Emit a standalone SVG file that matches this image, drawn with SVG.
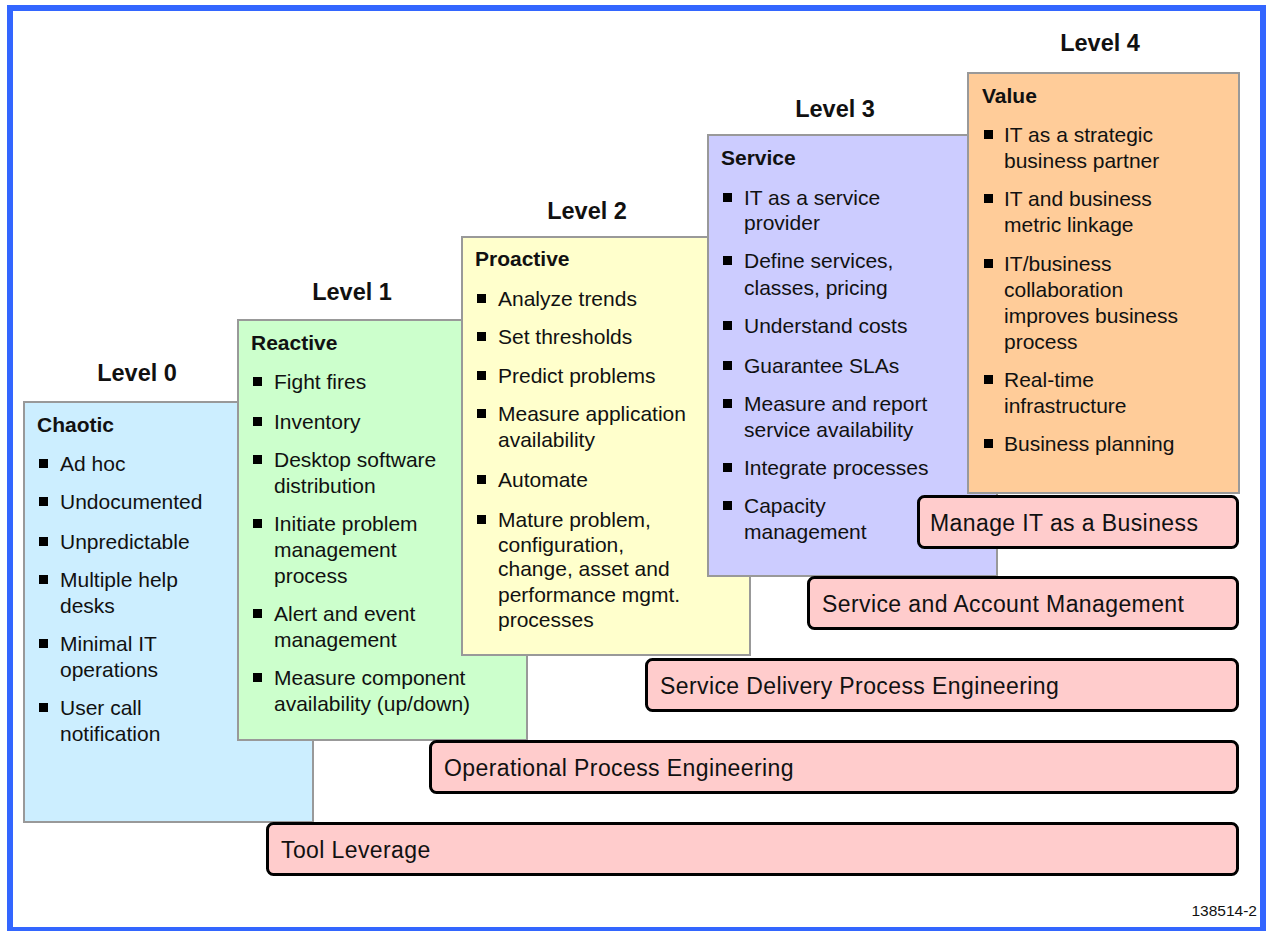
<svg xmlns="http://www.w3.org/2000/svg" width="1269" height="931" viewBox="0 0 1269 931">
<style>
text{font-family:"Liberation Sans",Arial,sans-serif;fill:#111}
.lvl{font-size:23.5px;font-weight:bold;text-anchor:middle}
.ttl{font-size:21px;font-weight:bold}
.it{font-size:21px}
.bar{font-size:23px;letter-spacing:0.4px}
.box{stroke:#999;stroke-width:2}
.pb{fill:#FFCCCC;stroke:#000;stroke-width:3}
.bl{fill:#000}
</style>
<rect x="0" y="0" width="1269" height="931" fill="#fff"/>
<rect x="10" y="8" width="1253" height="922" fill="none" stroke="#3366FF" stroke-width="6"/>

<g id="level0">
<rect class="box" x="24" y="402" width="289" height="420" fill="#CCEEFF"/>
<text class="lvl" x="137" y="381">Level 0</text>
<text class="ttl" x="37" y="432">Chaotic</text>
<rect class="bl" x="39" y="459" width="9" height="9"/><text class="it" x="60" y="471">Ad hoc</text>
<rect class="bl" x="39" y="497" width="9" height="9"/><text class="it" x="60" y="509">Undocumented</text>
<rect class="bl" x="39" y="537" width="9" height="9"/><text class="it" x="60" y="549">Unpredictable</text>
<rect class="bl" x="39" y="575" width="9" height="9"/><text class="it" x="60" y="587">Multiple help</text><text class="it" x="60" y="613">desks</text>
<rect class="bl" x="39" y="639" width="9" height="9"/><text class="it" x="60" y="651">Minimal IT</text><text class="it" x="60" y="677">operations</text>
<rect class="bl" x="39" y="703" width="9" height="9"/><text class="it" x="60" y="715">User call</text><text class="it" x="60" y="741">notification</text>
</g>

<g id="level1">
<rect class="box" x="238" y="320" width="289" height="420" fill="#CCFFCC"/>
<text class="lvl" x="352" y="300">Level 1</text>
<text class="ttl" x="251" y="350">Reactive</text>
<rect class="bl" x="253" y="377" width="9" height="9"/><text class="it" x="274" y="389">Fight fires</text>
<rect class="bl" x="253" y="417" width="9" height="9"/><text class="it" x="274" y="429">Inventory</text>
<rect class="bl" x="253" y="455" width="9" height="9"/><text class="it" x="274" y="467">Desktop software</text><text class="it" x="274" y="493">distribution</text>
<rect class="bl" x="253" y="519" width="9" height="9"/><text class="it" x="274" y="531">Initiate problem</text><text class="it" x="274" y="557">management</text><text class="it" x="274" y="583">process</text>
<rect class="bl" x="253" y="609" width="9" height="9"/><text class="it" x="274" y="621">Alert and event</text><text class="it" x="274" y="647">management</text>
<rect class="bl" x="253" y="673" width="9" height="9"/><text class="it" x="274" y="685">Measure component</text><text class="it" x="274" y="711">availability (up/down)</text>
</g>

<g id="level2">
<rect class="box" x="462" y="237" width="288" height="418" fill="#FFFFCC"/>
<text class="lvl" x="587" y="219">Level 2</text>
<text class="ttl" x="475" y="266">Proactive</text>
<rect class="bl" x="477" y="294" width="9" height="9"/><text class="it" x="498" y="306">Analyze trends</text>
<rect class="bl" x="477" y="332" width="9" height="9"/><text class="it" x="498" y="344">Set thresholds</text>
<rect class="bl" x="477" y="371" width="9" height="9"/><text class="it" x="498" y="383">Predict problems</text>
<rect class="bl" x="477" y="409" width="9" height="9"/><text class="it" x="498" y="421">Measure application</text><text class="it" x="498" y="447">availability</text>
<rect class="bl" x="477" y="475" width="9" height="9"/><text class="it" x="498" y="487">Automate</text>
<rect class="bl" x="477" y="515" width="9" height="9"/><text class="it" x="498" y="527">Mature problem,</text><text class="it" x="498" y="552">configuration,</text><text class="it" x="498" y="576">change, asset and</text><text class="it" x="498" y="602">performance mgmt.</text><text class="it" x="498" y="627">processes</text>
</g>

<g id="level3">
<rect class="box" x="708" y="135" width="289" height="441" fill="#CCCCFF"/>
<text class="lvl" x="835" y="117">Level 3</text>
<text class="ttl" x="721" y="165">Service</text>
<rect class="bl" x="723" y="193" width="9" height="9"/><text class="it" x="744" y="205">IT as a service</text><text class="it" x="744" y="230">provider</text>
<rect class="bl" x="723" y="256" width="9" height="9"/><text class="it" x="744" y="268">Define services,</text><text class="it" x="744" y="295">classes, pricing</text>
<rect class="bl" x="723" y="321" width="9" height="9"/><text class="it" x="744" y="333">Understand costs</text>
<rect class="bl" x="723" y="361" width="9" height="9"/><text class="it" x="744" y="373">Guarantee SLAs</text>
<rect class="bl" x="723" y="399" width="9" height="9"/><text class="it" x="744" y="411">Measure and report</text><text class="it" x="744" y="437">service availability</text>
<rect class="bl" x="723" y="463" width="9" height="9"/><text class="it" x="744" y="475">Integrate processes</text>
<rect class="bl" x="723" y="501" width="9" height="9"/><text class="it" x="744" y="513">Capacity</text><text class="it" x="744" y="539">management</text>
</g>

<g id="level4">
<rect class="box" x="968" y="73" width="271" height="420" fill="#FFCC99"/>
<text class="lvl" x="1100" y="51">Level 4</text>
<text class="ttl" x="982" y="103">Value</text>
<rect class="bl" x="984" y="130" width="9" height="9"/><text class="it" x="1004" y="142">IT as a strategic</text><text class="it" x="1004" y="168">business partner</text>
<rect class="bl" x="984" y="194" width="9" height="9"/><text class="it" x="1004" y="206">IT and business</text><text class="it" x="1004" y="232">metric linkage</text>
<rect class="bl" x="984" y="259" width="9" height="9"/><text class="it" x="1004" y="271">IT/business</text><text class="it" x="1004" y="297">collaboration</text><text class="it" x="1004" y="323">improves business</text><text class="it" x="1004" y="349">process</text>
<rect class="bl" x="984" y="375" width="9" height="9"/><text class="it" x="1004" y="387">Real-time</text><text class="it" x="1004" y="413">infrastructure</text>
<rect class="bl" x="984" y="439" width="9" height="9"/><text class="it" x="1004" y="451">Business planning</text>
</g>

<g id="bar-manage">
<rect class="pb" x="918.5" y="496.5" width="319" height="51" rx="6"/>
<text class="bar" x="930" y="531">Manage IT as a Business</text>
</g>
<g id="bar-service-account">
<rect class="pb" x="808.5" y="577.5" width="429" height="51" rx="6"/>
<text class="bar" x="822" y="612">Service and Account Management</text>
</g>
<g id="bar-service-delivery">
<rect class="pb" x="646.5" y="659.5" width="591" height="51" rx="6"/>
<text class="bar" x="660" y="694">Service Delivery Process Engineering</text>
</g>
<g id="bar-operational">
<rect class="pb" x="430.5" y="741.5" width="807" height="51" rx="6"/>
<text class="bar" x="444" y="776">Operational Process Engineering</text>
</g>
<g id="bar-tool">
<rect class="pb" x="267.5" y="823.5" width="970" height="51" rx="6"/>
<text class="bar" x="281" y="858">Tool Leverage</text>
</g>

<g id="connectors"></g>

<text x="1257" y="916" font-size="15.5" text-anchor="end">138514-2</text>
</svg>
